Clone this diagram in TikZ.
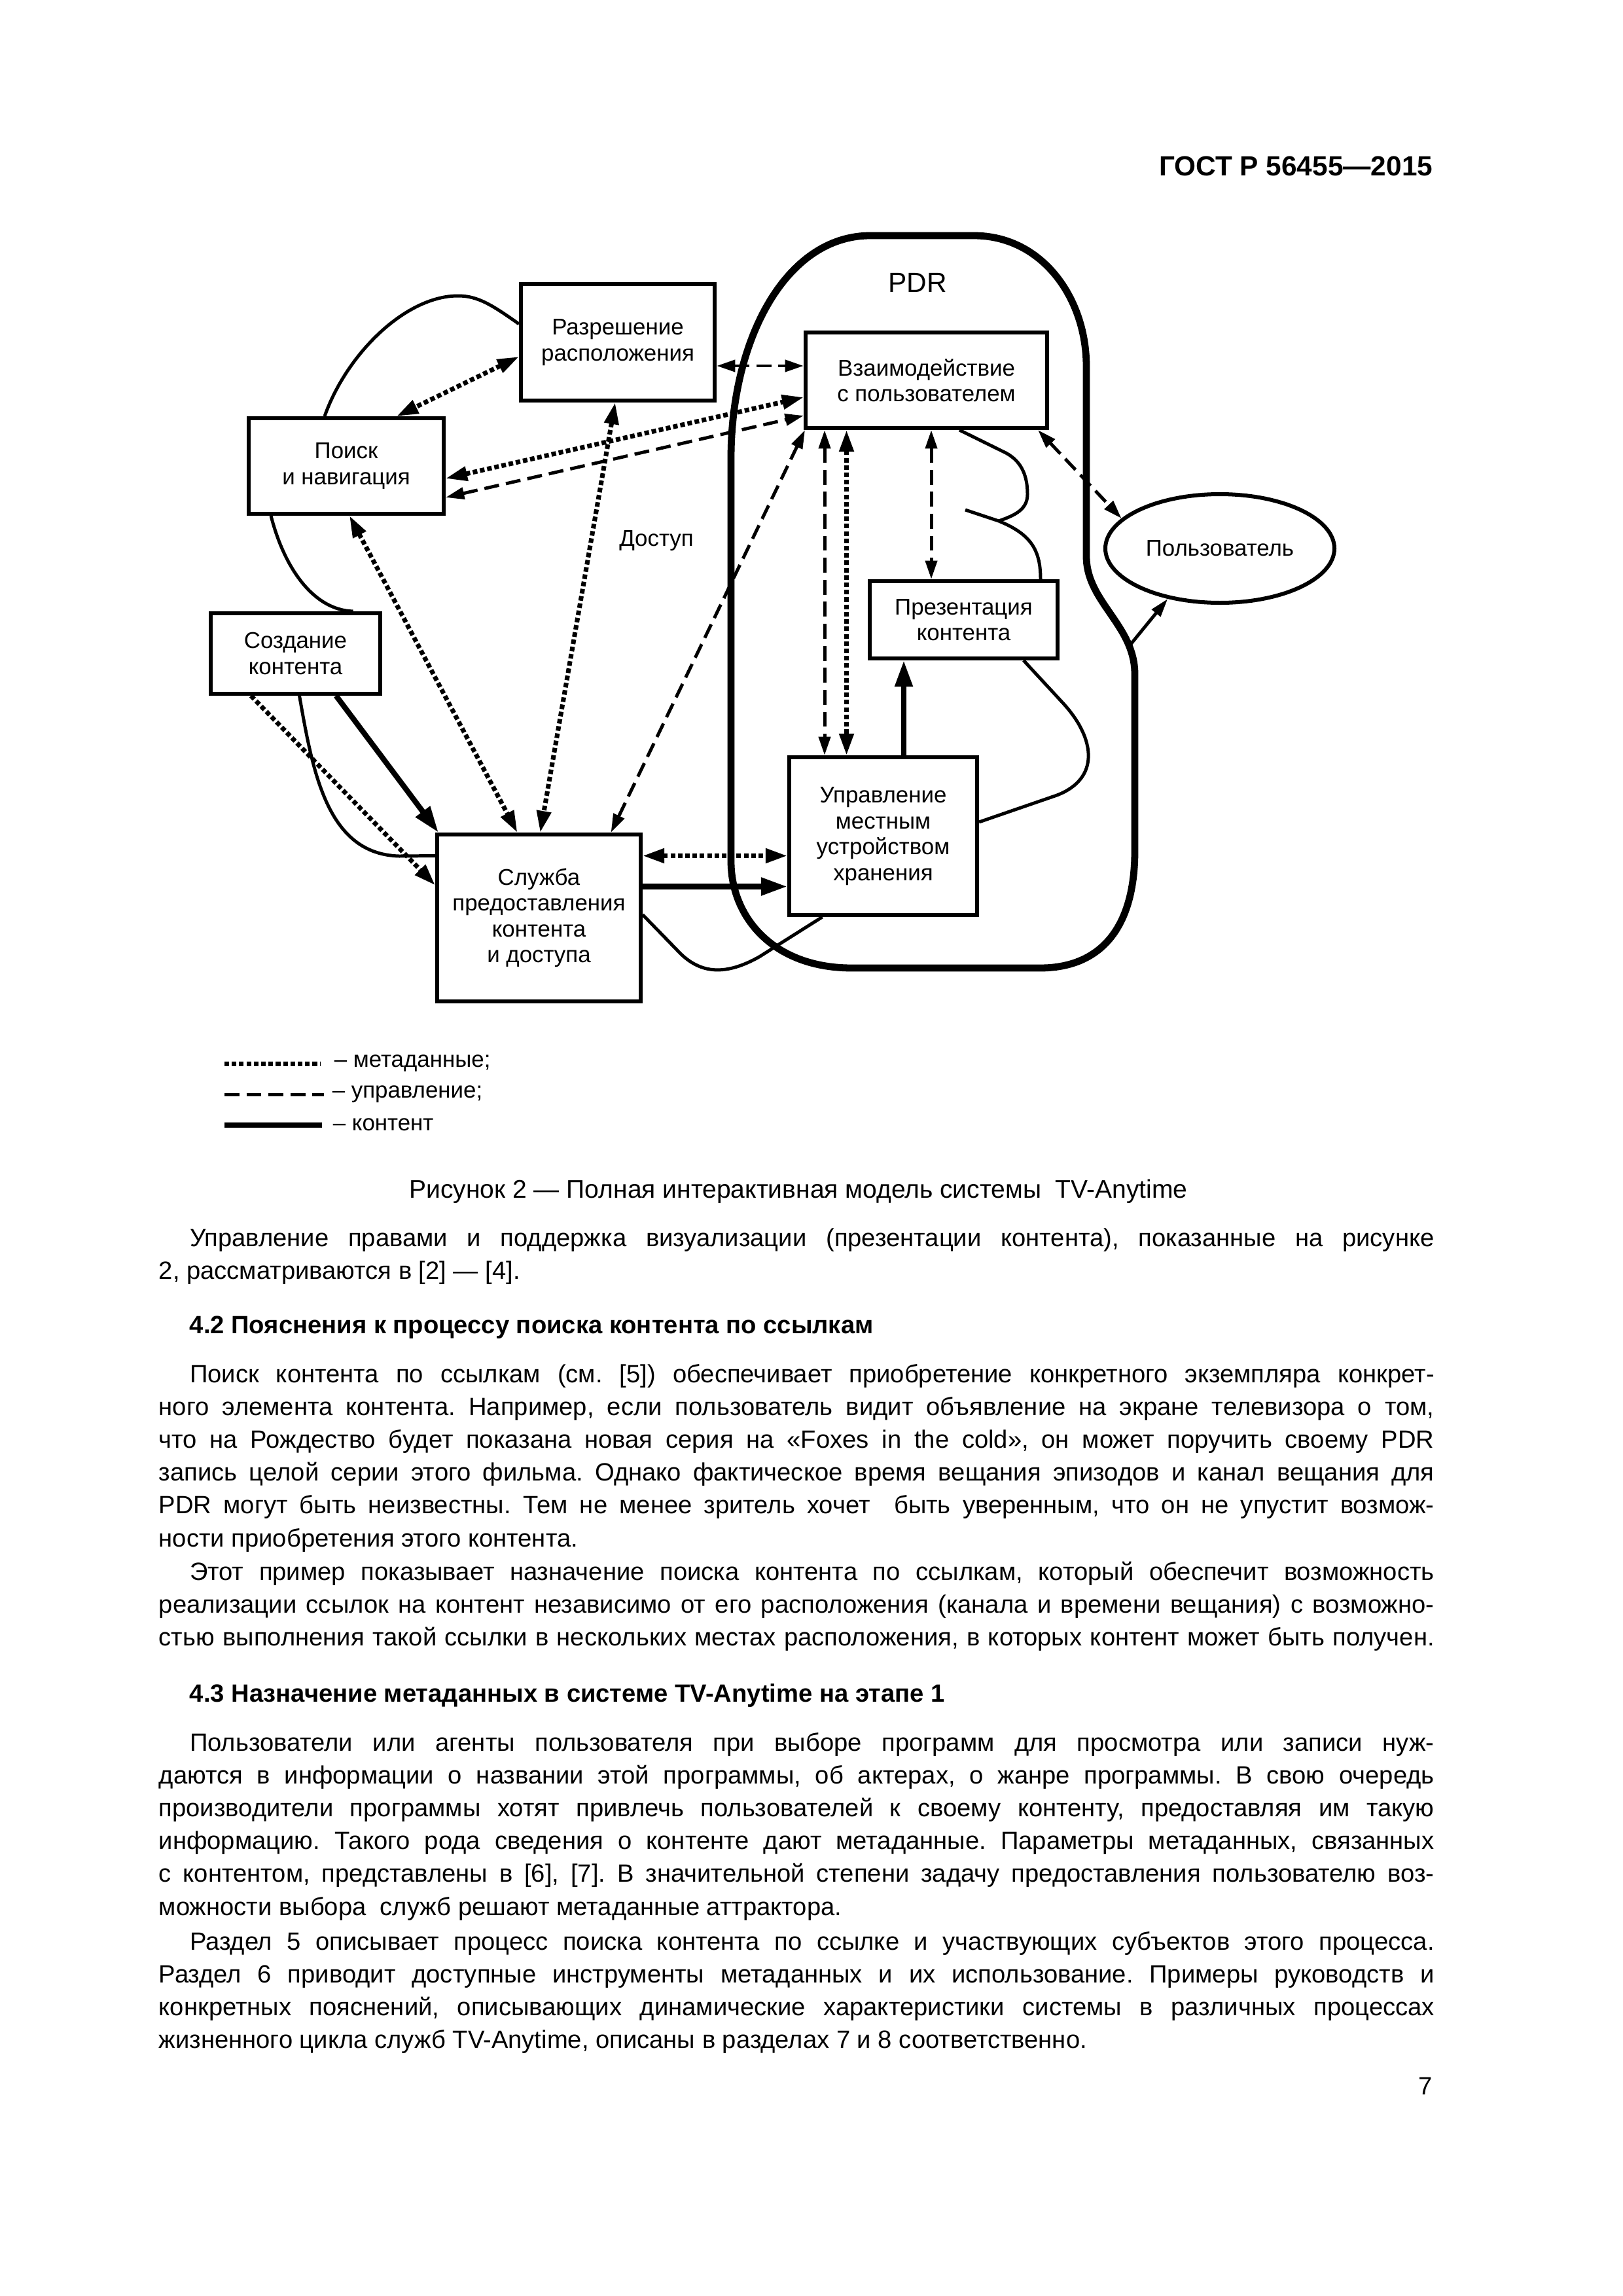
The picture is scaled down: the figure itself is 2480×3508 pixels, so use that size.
\documentclass[tikz,border=0pt]{standalone}
\usepackage{fontspec}
\setmainfont{Liberation Sans}
\usetikzlibrary{arrows.meta,calc,shapes.geometric}

\newcommand{\pxu}{0.0846774mm}
\newcommand{\normsp}{\spaceskip=0pt\xspaceskip=0pt\frenchspacing}
\newcommand{\jl}[1]{\makebox[\linewidth][s]{\normsp #1}\\}

\begin{document}
\begin{tikzpicture}[x=0.0846774mm, y=-0.0846774mm,
    blk/.style={draw, line width=1.45pt, inner sep=0pt, align=center,
      font=\fontsize{8.4}{9.5}\selectfont},
    lbl/.style={inner sep=0pt, font=\fontsize{8.4}{9.5}\selectfont},
    metaln/.style={line width=1.7pt, dash pattern=on 1.7pt off 1pt,
      >={Triangle[length=2.8mm,width=1.8mm]}},
    ctrlln/.style={line width=1.2pt, dash pattern=on 5.5pt off 2.6pt,
      >={Triangle[length=2.4mm,width=1.5mm]}},
    contln/.style={line width=2pt, >={Triangle[length=3.4mm,width=2.2mm]}},
    thinln/.style={line width=1.2pt, >={Triangle[length=2.4mm,width=1.4mm]}},
    pdrln/.style={line width=2.6pt},
    para/.style={anchor=base west, inner sep=0pt, text width=165mm, align=justify,
      font=\fontsize{9.2}{12.1}\selectfont},
    head/.style={anchor=base west, inner sep=0pt,
      font=\fontsize{9.2}{12.1}\selectfont\bfseries}]

  % page
  \fill[white] (0,0) rectangle (2480,3508);
  \node[anchor=base east, inner sep=0pt, font=\fontsize{10.2}{12}\selectfont\bfseries]
    (gost) at (2190,268) {ГОСТ Р 56455—2015};

  % PDR outline
  \draw[pdrln] (1117,1316) -- (1117,700)
    .. controls (1117,520) and (1200,360) .. (1330,360) -- (1488,360)
    .. controls (1592,360) and (1660,455) .. (1660,560) -- (1660,850)
    .. controls (1660,920) and (1734,955) .. (1734,1030) -- (1734,1300)
    .. controls (1734,1420) and (1680,1479) .. (1589,1479) -- (1302,1479)
    .. controls (1180,1479) and (1117,1400) .. (1117,1316) -- cycle;
  \node[inner sep=0pt, font=\fontsize{10.2}{12}\selectfont] (pdr) at (1402,432) {PDR};

  % blocks
  \node[blk, minimum width=296*\pxu, minimum height=178*\pxu] (raz) at (944,523)
    {Разрешение\\расположения};
  \node[blk, minimum width=298*\pxu, minimum height=146*\pxu] (poisk) at (529,712)
    {Поиск\\и навигация};
  \node[blk, minimum width=259*\pxu, minimum height=123*\pxu] (sozd) at (451.5,998.5)
    {Создание\\контента};
  \node[blk, minimum width=311*\pxu, minimum height=255*\pxu] (sluzh) at (823.5,1402.5)
    {Служба\\предоставления\\контента\\и доступа};
  \node[blk, minimum width=369*\pxu, minimum height=146*\pxu] (vzaim) at (1415.5,581)
    {Взаимодействие\\с пользователем};
  \node[blk, minimum width=287*\pxu, minimum height=118*\pxu] (prez) at (1472.5,947)
    {Презентация\\контента};
  \node[blk, minimum width=287*\pxu, minimum height=241*\pxu] (upr) at (1349.5,1277.5)
    {Управление\\местным\\устройством\\хранения};
  \node[blk, ellipse, minimum width=350*\pxu, minimum height=166*\pxu] (polz) at (1864,838)
    {Пользователь};
  \node[lbl] (dost) at (1003,826) {Доступ};

  % metadata
  \draw[metaln,<->] ($(raz.west)+(0,22)$) -- ($(poisk.north)+(77,0)$);
  \draw[metaln,<->] ($(poisk.east)+(0,19)$) -- ($(vzaim.west)+(0,26)$);
  \draw[metaln,<->] ($(poisk.south)+(5,0)$) -- ($(sluzh.north)+(-33,0)$);
  \draw[metaln,<->] ($(raz.south)+(-4,0)$) -- ($(sluzh.north)+(2,0)$);
  \draw[metaln,->] ($(sozd.south)+(-68,0)$) -- ($(sluzh.west)+(0,-50)$);
  \draw[metaln,<->] ($(sluzh.east)+(0,-95)$) -- ($(upr.west)+(0,30)$);
  \draw[metaln,<->] ($(vzaim.south)+(-122,0)$) -- ($(upr.north)+(-56,0)$);

  % control
  \draw[ctrlln,<->] ($(raz.east)+(0,36)$) -- ($(vzaim.west)+(0,-22)$);
  \draw[ctrlln,<->] ($(poisk.east)+(0,48)$) -- ($(vzaim.west)+(0,54)$);
  \draw[ctrlln,<->] ($(vzaim.south west)+(2,0)$) -- ($(sluzh.north)+(110,0)$);
  \draw[ctrlln,<->] ($(vzaim.south)+(-155.5,0)$) -- ($(upr.north)+(-89.5,0)$);
  \draw[ctrlln,<->] ($(vzaim.south)+(7.5,0)$) -- ($(prez.north)+(-49.5,0)$);
  \draw[ctrlln,<->] ($(vzaim.south east)+(-17,0)$) -- (polz.163);

  % content
  \draw[contln,->] ($(sozd.south)+(62,0)$) -- ($(sluzh.north west)+(5,0)$);
  \draw[contln,->] ($(sluzh.east)+(0,-48)$) -- ($(upr.west)+(0,77)$);
  \draw[contln,->] ($(upr.north)+(31.5,0)$) -- ($(prez.south)+(-91.5,0)$);

  % thin links
  \coordinate (pdrout) at (1728,984);
  \coordinate (jn) at (1526,796);
  \coordinate (brk) at (1475,779);
  \draw[thinln,->] (pdrout) -- (polz.224);
  \draw[thinln] ($(poisk.north)+(-33,0)$)
    .. controls (530,540) and (620,452) .. (700,452)
    .. controls (730,452) and (752,466) .. ($(raz.west)+(0,-28)$);
  \draw[thinln] ($(poisk.south)+(-115,0)$)
    .. controls (435,870) and (480,932) .. ($(sozd.north)+(88,0)$);
  \draw[thinln] ($(sozd.south)+(6,0)$)
    .. controls (478,1180) and (500,1305) .. (610,1308) -- ($(sluzh.west)+(0,-95)$);
  \draw[thinln] ($(sluzh.east)+(0,-5)$) -- (1035,1452)
    .. controls (1070,1490) and (1110,1490) .. (1160,1462) -- ($(upr.south)+(-93,0)$);
  \draw[thinln] ($(prez.south east)+(-55,0)$) -- (1625,1075)
    .. controls (1675,1130) and (1680,1190) .. (1615,1215) -- ($(upr.east)+(0,-21.5)$);
  \draw[thinln] ($(vzaim.south)+(50.5,0)$) -- (1537,692)
    .. controls (1563,706) and (1570,730) .. (1570,755)
    .. controls (1570,778) and (1552,787) .. (jn);
  \draw[thinln] (brk) -- (jn)
    .. controls (1575,816) and (1590,840) .. ($(prez.north)+(117.5,0)$);

  % legend
  \node[lbl, anchor=mid west] (lmeta) at (510,1620) {– метаданные;};
  \node[lbl, anchor=mid west] (lctrl) at (507,1667) {– управление;};
  \node[lbl, anchor=mid west] (lcont) at (508,1717) {– контент};
  \draw[metaln] ($(lmeta.west)+(-167,0)$) -- ($(lmeta.west)+(-20,0)$);
  \draw[ctrlln] ($(lctrl.west)+(-164,0)$) -- ($(lctrl.west)+(-12,0)$);
  \draw[contln] ($(lcont.west)+(-165,0)$) -- ($(lcont.west)+(-16,0)$);

  % caption and text
  \node[anchor=base, inner sep=0pt, font=\fontsize{9.4}{12}\selectfont] (cap) at (1220,1830)
    {Рисунок 2 — Полная интерактивная модель системы\ \ TV-Anytime};

  \node[para] (p1) at (242,1904) {\normsp
    \jl{\hspace{4mm}Управление правами и поддержка визуализации (презентации контента), показанные на рисунке}
    2, рассматриваются в [2] — [4].};

  \node[head] (h42) at (289,2037) {4.2 Пояснения к процессу поиска контента по ссылкам};

  \node[para] (p2) at (242,2112) {\normsp
    \jl{\hspace{4mm}Поиск контента по ссылкам (см. [5]) обеспечивает приобретение конкретного экземпляра конкрет-}
    \jl{ного элемента контента. Например, если пользователь видит объявление на экране телевизора о том,}
    \jl{что на Рождество будет показана новая серия на «Foxes in the cold», он может поручить своему PDR}
    \jl{запись целой серии этого фильма. Однако фактическое время вещания эпизодов и канал вещания для}
    \jl{PDR могут быть неизвестны. Тем не менее зритель хочет\ \ быть уверенным, что он не упустит возмож-}
    ности приобретения этого контента.};

  \node[para] (p3) at (242,2414) {\normsp
    \jl{\hspace{4mm}Этот пример показывает назначение поиска контента по ссылкам, который обеспечит возможность}
    \jl{реализации ссылок на контент независимо от его расположения (канала и времени вещания) с возможно-}
    \makebox[\linewidth][s]{\normsp стью выполнения такой ссылки в нескольких местах расположения, в которых контент может быть получен.}};

  \node[head] (h43) at (289,2600) {4.3 Назначение метаданных в системе TV-Anytime на этапе 1};

  \node[para] (p4) at (242,2675) {\normsp
    \jl{\hspace{4mm}Пользователи или агенты пользователя при выборе программ для просмотра или записи нуж-}
    \jl{даются в информации о названии этой программы, об актерах, о жанре программы. В свою очередь}
    \jl{производители программы хотят привлечь пользователей к своему контенту, предоставляя им такую}
    \jl{информацию. Такого рода сведения о контенте дают метаданные. Параметры метаданных, связанных}
    \jl{с контентом, представлены в [6], [7]. В значительной степени задачу предоставления пользователю воз-}
    можности выбора\ \ служб решают метаданные аттрактора.};

  \node[para] (p5) at (242,2979) {\normsp
    \jl{\hspace{4mm}Раздел 5 описывает процесс поиска контента по ссылке и участвующих субъектов этого процесса.}
    \jl{Раздел 6 приводит доступные инструменты метаданных и их использование. Примеры руководств и}
    \jl{конкретных пояснений, описывающих динамические характеристики системы в различных процессах}
    жизненного цикла служб TV-Anytime, описаны в разделах 7 и 8 соответственно.};

  \node[anchor=base east, inner sep=0pt, font=\fontsize{9.2}{12}\selectfont] (pgno) at (2190,3200) {7};
\end{tikzpicture}
\end{document}
